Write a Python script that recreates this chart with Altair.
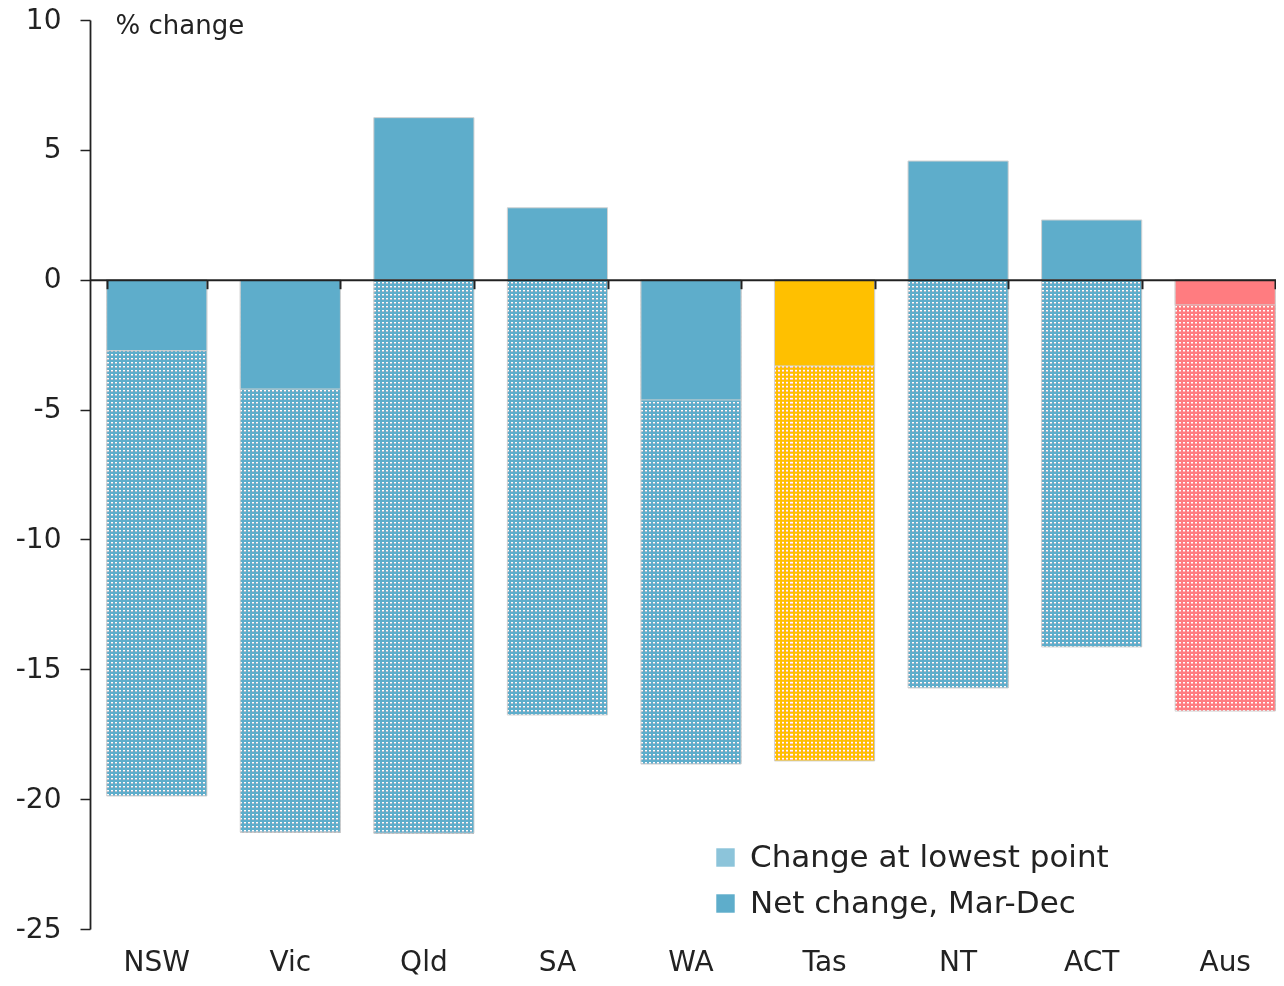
import altair as alt
import pandas as pd

# ---------------- data ----------------
states = ["NSW", "Vic", "Qld", "SA", "WA", "Tas", "NT", "ACT", "Aus"]
net_change = [-2.73, -4.21, 6.24, 2.77, -4.63, -3.32, 4.57, 2.30, -0.97]
lowest_change = [-19.88, -21.27, -21.31, -16.76, -18.65, -18.53, -15.72, -14.14, -16.61]
colour_group = ["state", "state", "state", "state", "state", "tas", "state", "state", "aus"]
series_labels = ["Change at lowest point", "Net change, Mar-Dec"]
y_ticks = [-25, -20, -15, -10, -5, 0, 5, 10]

# ---------------- styles ----------------
BLUE = "#5eadcb"
GOLD = "#ffc000"
SALMON = "#ff7c80"
TINT = "#8cc4da"
INK = "#222222"
FONT = "DejaVu Sans"
YMIN, YMAX = -25, 10
W, H = 1186, 909
X_RANGE_MAX = 1202          # plot continues slightly past the right edge, as in the reference
BAND_W = X_RANGE_MAX / 9 * 0.75


def col_stripes(n, frac):
    stops = []
    for i in range(n):
        a = round(i / n, 6)
        b = round((i + frac) / n, 6)
        c = round((i + 1) / n, 6)
        stops += [
            alt.GradientStop(color="#ffffff", offset=a),
            alt.GradientStop(color="#ffffff", offset=b),
            alt.GradientStop(color="#000000", offset=b),
            alt.GradientStop(color="#000000", offset=c),
        ]
    return alt.LinearGradient(gradient="linear", stops=stops, x1=0, x2=1, y1=0, y2=0)


grad_x = col_stripes(25, 0.5)

df = pd.DataFrame({"state": states, "net": net_change, "lowest": lowest_change, "grp": colour_group})
leg_df = pd.DataFrame({"series": series_labels})

xscale = alt.Scale(domain=states, paddingInner=0.25, paddingOuter=0.125, rangeMax=X_RANGE_MAX)
yscale = alt.Scale(domain=[YMIN, YMAX], nice=False, zero=False)
fillscale = alt.Scale(domain=["state", "tas", "aus"], range=[BLUE, GOLD, SALMON])

yax = alt.Axis(
    values=y_ticks, labelExpr="datum.value + ''",
    title="% change", titleAngle=0, titleAlign="left", titleBaseline="middle",
    titleX=25, titleY=5, titleFontSize=26, titleFontWeight="normal", titleColor=INK,
    labelFontSize=28, labelColor=INK, labelPadding=19, tickSize=10, tickWidth=1.5, tickColor=INK,
    domainColor=INK, domainWidth=1.8, grid=False, zindex=1,
)
label_axis = alt.Axis(
    orient="bottom", domain=False, ticks=False, tickSize=0, labelPadding=33, labelBaseline="middle",
    labelFontSize=28, labelColor=INK, labelAngle=0, title=None, grid=False,
)
zero_axis = alt.Axis(
    orient="bottom", offset=-(H * (0 - YMIN) / (YMAX - YMIN)), domain=True, domainColor=INK,
    domainWidth=2, ticks=True, tickBand="extent", tickSize=9, tickWidth=2, tickColor=INK,
    labels=False, title=None, grid=False, zindex=1,
)


def X(axis=None):
    return alt.X("state:N", sort=states, scale=xscale, axis=axis)


def Yq(field):
    return alt.Y(field, type="quantitative", scale=yscale, axis=yax)


base = alt.Chart(df).transform_calculate(zero="0")

# dotted texture: white base, dashed rows, striped columns (darken), then tint (lighten)
l_white = base.mark_bar(fill="white").encode(x=X(label_axis), y=Yq("zero"), y2="lowest:Q")
l_rows = base.mark_rule(color="black", strokeWidth=BAND_W, strokeDash=[2, 2], strokeCap="butt").encode(
    x=X(), y=Yq("zero"), y2="lowest:Q")
l_cols = base.mark_bar(fill=grad_x, blend="darken").encode(x=X(), y=Yq("zero"), y2="lowest:Q")
l_colour = base.mark_bar(blend="lighten").encode(
    x=X(), y=Yq("zero"), y2="lowest:Q", fill=alt.Fill("grp:N", scale=fillscale, legend=None))
l_outline = base.mark_bar(fillOpacity=0, stroke="#d2d2d2", strokeWidth=1).encode(
    x=X(), y=Yq("zero"), y2="lowest:Q")
l_net = base.mark_bar(stroke="#d2d2d2", strokeWidth=1).encode(
    x=X(zero_axis), y=Yq("zero"), y2="net:Q", fill=alt.Fill("grp:N", scale=fillscale, legend=None))

l_legend = alt.Chart(leg_df).transform_calculate(state="'NSW'", zero="0").mark_bar().encode(
    x=X(), y=Yq("zero"), y2="zero:Q",
    color=alt.Color("series:N", scale=alt.Scale(domain=series_labels, range=[TINT, BLUE]),
                    legend=alt.Legend(title=None, orient="none", legendX=620, legendY=822,
                                      direction="vertical", symbolType="square", symbolSize=340,
                                      symbolStrokeWidth=0, labelFontSize=31, labelColor=INK,
                                      labelOffset=9, rowPadding=14, padding=0, labelLimit=700)),
)

chart = (
    alt.layer(l_white, l_rows, l_cols, l_colour, l_outline, l_net, l_legend)
    .resolve_axis(x="independent")
    .properties(width=W, height=H, padding={"left": 82, "top": 12, "right": 0, "bottom": 49},
                autosize=alt.AutoSizeParams(type="none"), background="white")
    .configure(font=FONT)
    .configure_view(stroke=None)
)

chart.save("out.html", embed_options={"renderer": "svg", "actions": False})
